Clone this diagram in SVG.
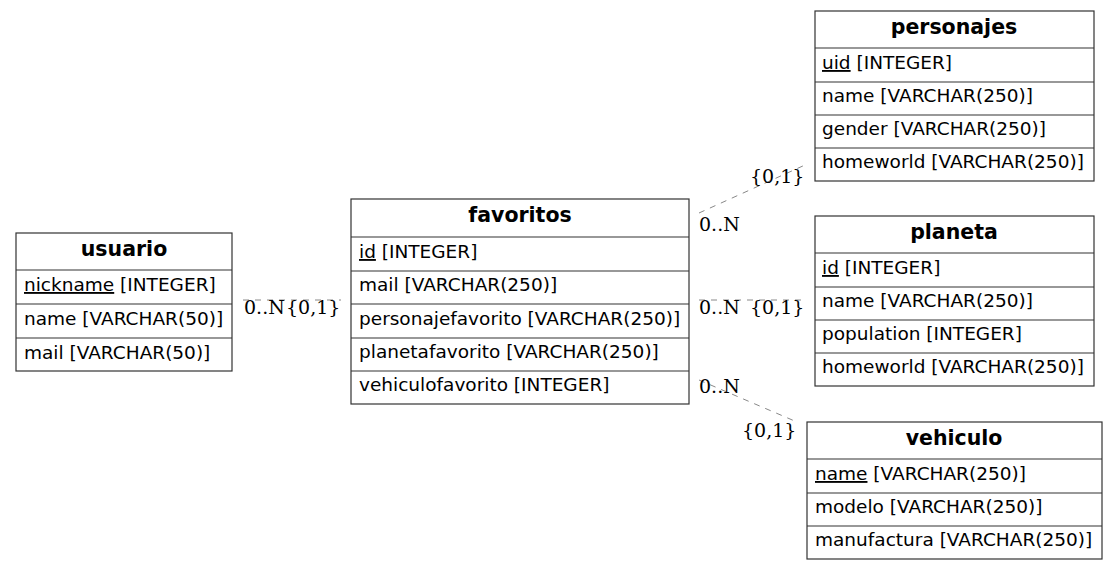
<svg xmlns="http://www.w3.org/2000/svg" width="1117" height="570" viewBox="0 0 1117 570">
<style>
.bg{fill:#fff}
.box{fill:none;stroke:#333;stroke-width:1.2}
.sep{stroke:#333;stroke-width:1.2}
.hd{font-family:"DejaVu Sans",sans-serif;font-size:20.5px;font-weight:bold;text-anchor:middle;fill:#000}
.tx{font-family:"DejaVu Sans",sans-serif;font-size:18.5px;fill:#000}
.lb{font-family:"DejaVu Serif",serif;font-size:19px;fill:#000}
.cn{stroke:#888;stroke-width:1;stroke-dasharray:6,6;fill:none}
</style>
<rect class="bg" width="1117" height="570"/>
<g id="connectors">
<line class="cn" x1="243" y1="300" x2="341" y2="300"/>
<line class="cn" x1="699" y1="213" x2="805" y2="165"/>
<line class="cn" x1="699" y1="300" x2="805" y2="300"/>
<line class="cn" x1="699" y1="380" x2="797" y2="422"/>
<text class="lb" x="244" y="314">0..N</text>
<text class="lb" x="286" y="314">{0,1}</text>
<text class="lb" x="699" y="231">0..N</text>
<text class="lb" x="750" y="183">{0,1}</text>
<text class="lb" x="699" y="314">0..N</text>
<text class="lb" x="750" y="314">{0,1}</text>
<text class="lb" x="699" y="393">0..N</text>
<text class="lb" x="742" y="437">{0,1}</text>
</g>
<g id="usuario">
<rect class="box" x="16" y="233" width="216" height="138"/>
<line class="sep" x1="16" y1="270" x2="232" y2="270"/>
<line class="sep" x1="16" y1="304" x2="232" y2="304"/>
<line class="sep" x1="16" y1="338" x2="232" y2="338"/>
<text class="hd" x="124" y="256">usuario</text>
<text class="tx" x="24" y="291"><tspan text-decoration="underline">nickname</tspan> [INTEGER]</text>
<text class="tx" x="24" y="325">name [VARCHAR(50)]</text>
<text class="tx" x="24" y="359">mail [VARCHAR(50)]</text>
</g>
<g id="favoritos">
<rect class="box" x="351" y="199" width="338" height="205"/>
<line class="sep" x1="351" y1="237" x2="689" y2="237"/>
<line class="sep" x1="351" y1="271" x2="689" y2="271"/>
<line class="sep" x1="351" y1="304" x2="689" y2="304"/>
<line class="sep" x1="351" y1="338" x2="689" y2="338"/>
<line class="sep" x1="351" y1="371" x2="689" y2="371"/>
<text class="hd" x="520" y="222">favoritos</text>
<text class="tx" x="359" y="258"><tspan text-decoration="underline">id</tspan> [INTEGER]</text>
<text class="tx" x="359" y="291">mail [VARCHAR(250)]</text>
<text class="tx" x="359" y="325">personajefavorito [VARCHAR(250)]</text>
<text class="tx" x="359" y="358">planetafavorito [VARCHAR(250)]</text>
<text class="tx" x="359" y="391">vehiculofavorito [INTEGER]</text>
</g>
<g id="personajes">
<rect class="box" x="815" y="11" width="279" height="170"/>
<line class="sep" x1="815" y1="48" x2="1094" y2="48"/>
<line class="sep" x1="815" y1="82" x2="1094" y2="82"/>
<line class="sep" x1="815" y1="115" x2="1094" y2="115"/>
<line class="sep" x1="815" y1="148" x2="1094" y2="148"/>
<text class="hd" x="954" y="34">personajes</text>
<text class="tx" x="822" y="69"><tspan text-decoration="underline">uid</tspan> [INTEGER]</text>
<text class="tx" x="822" y="102">name [VARCHAR(250)]</text>
<text class="tx" x="822" y="135">gender [VARCHAR(250)]</text>
<text class="tx" x="822" y="168">homeworld [VARCHAR(250)]</text>
</g>
<g id="planeta">
<rect class="box" x="815" y="216" width="279" height="170"/>
<line class="sep" x1="815" y1="253" x2="1094" y2="253"/>
<line class="sep" x1="815" y1="287" x2="1094" y2="287"/>
<line class="sep" x1="815" y1="320" x2="1094" y2="320"/>
<line class="sep" x1="815" y1="353" x2="1094" y2="353"/>
<text class="hd" x="954" y="239">planeta</text>
<text class="tx" x="822" y="274"><tspan text-decoration="underline">id</tspan> [INTEGER]</text>
<text class="tx" x="822" y="307">name [VARCHAR(250)]</text>
<text class="tx" x="822" y="340">population [INTEGER]</text>
<text class="tx" x="822" y="373">homeworld [VARCHAR(250)]</text>
</g>
<g id="vehiculo">
<rect class="box" x="807" y="422" width="295" height="137"/>
<line class="sep" x1="807" y1="459" x2="1102" y2="459"/>
<line class="sep" x1="807" y1="493" x2="1102" y2="493"/>
<line class="sep" x1="807" y1="526" x2="1102" y2="526"/>
<text class="hd" x="954" y="445">vehiculo</text>
<text class="tx" x="815" y="480"><tspan text-decoration="underline">name</tspan> [VARCHAR(250)]</text>
<text class="tx" x="815" y="513">modelo [VARCHAR(250)]</text>
<text class="tx" x="815" y="546">manufactura [VARCHAR(250)]</text>
</g>
</svg>
